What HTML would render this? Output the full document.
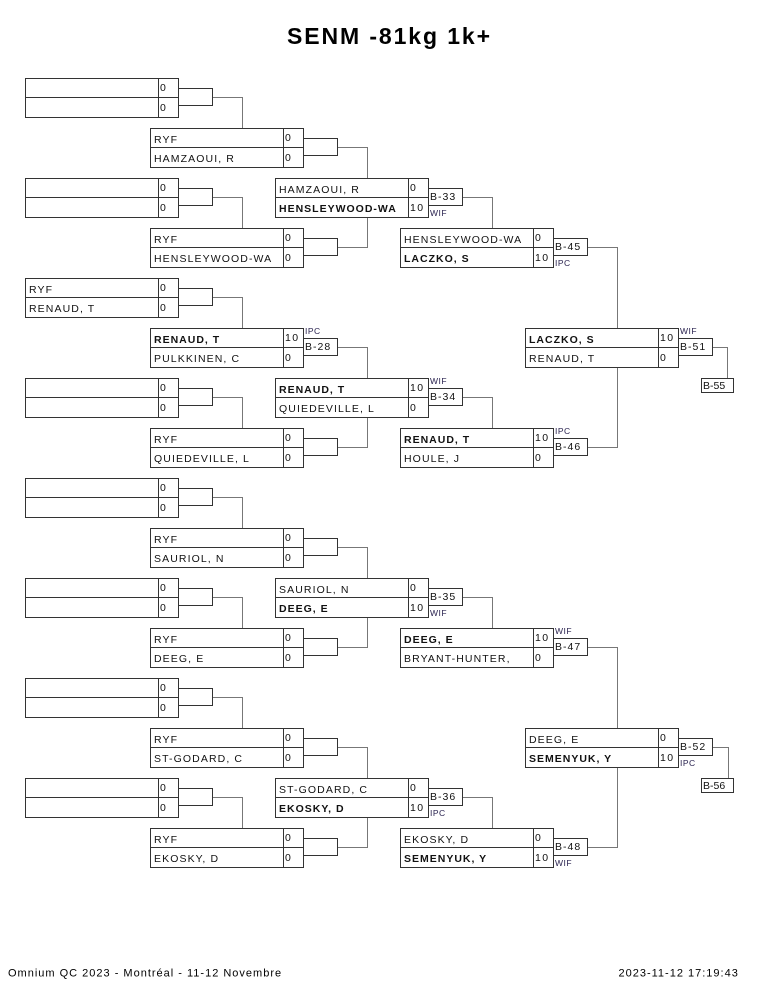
<!DOCTYPE html>
<html>
<head>
<meta charset="utf-8">
<style>
html,body{margin:0;padding:0;background:#fff;}
svg{display:block;}
text{font-family:"Liberation Sans",Arial,sans-serif;fill:#111;}
.n{font-size:10.5px;letter-spacing:1.1px;}
.b{font-size:10.5px;font-weight:bold;letter-spacing:1px;}
.s{font-size:10.5px;letter-spacing:1.4px;}
.bx{font-size:10.5px;letter-spacing:1px;}
.l{font-size:8.5px;letter-spacing:0.5px;fill:#2a2350;}
.box rect,.box line{fill:none;stroke:#333;stroke-width:1;}
.c{fill:none;stroke:#777;stroke-width:1;}
</style>
</head>
<body>
<svg width="765" height="990" viewBox="0 0 765 990" xmlns="http://www.w3.org/2000/svg">
<rect x="0" y="0" width="765" height="990" fill="#fff"/>
<text x="287" y="44" style="font-size:23px;font-weight:bold;letter-spacing:1.9px;fill:#000">SENM -81kg 1k+</text>

<!-- ================= COLUMN 1 (X=25) ================= -->
<g class="box">
<rect x="25.5" y="78.5" width="153" height="39"/><line x1="25" y1="97.5" x2="178" y2="97.5"/><line x1="158.5" y1="78" x2="158.5" y2="117"/><rect x="178.5" y="88.5" width="34" height="17"/>
<rect x="25.5" y="178.5" width="153" height="39"/><line x1="25" y1="197.5" x2="178" y2="197.5"/><line x1="158.5" y1="178" x2="158.5" y2="217"/><rect x="178.5" y="188.5" width="34" height="17"/>
<rect x="25.5" y="278.5" width="153" height="39"/><line x1="25" y1="297.5" x2="178" y2="297.5"/><line x1="158.5" y1="278" x2="158.5" y2="317"/><rect x="178.5" y="288.5" width="34" height="17"/>
<rect x="25.5" y="378.5" width="153" height="39"/><line x1="25" y1="397.5" x2="178" y2="397.5"/><line x1="158.5" y1="378" x2="158.5" y2="417"/><rect x="178.5" y="388.5" width="34" height="17"/>
<rect x="25.5" y="478.5" width="153" height="39"/><line x1="25" y1="497.5" x2="178" y2="497.5"/><line x1="158.5" y1="478" x2="158.5" y2="517"/><rect x="178.5" y="488.5" width="34" height="17"/>
<rect x="25.5" y="578.5" width="153" height="39"/><line x1="25" y1="597.5" x2="178" y2="597.5"/><line x1="158.5" y1="578" x2="158.5" y2="617"/><rect x="178.5" y="588.5" width="34" height="17"/>
<rect x="25.5" y="678.5" width="153" height="39"/><line x1="25" y1="697.5" x2="178" y2="697.5"/><line x1="158.5" y1="678" x2="158.5" y2="717"/><rect x="178.5" y="688.5" width="34" height="17"/>
<rect x="25.5" y="778.5" width="153" height="39"/><line x1="25" y1="797.5" x2="178" y2="797.5"/><line x1="158.5" y1="778" x2="158.5" y2="817"/><rect x="178.5" y="788.5" width="34" height="17"/>
</g>
<path class="c" d="M213 97.5H242.5V128"/>
<path class="c" d="M213 197.5H242.5V228"/>
<path class="c" d="M213 297.5H242.5V328"/>
<path class="c" d="M213 397.5H242.5V428"/>
<path class="c" d="M213 497.5H242.5V528"/>
<path class="c" d="M213 597.5H242.5V628"/>
<path class="c" d="M213 697.5H242.5V728"/>
<path class="c" d="M213 797.5H242.5V828"/>
<text class="s" x="160" y="91">0</text><text class="s" x="160" y="111">0</text>
<text class="s" x="160" y="191">0</text><text class="s" x="160" y="211">0</text>
<text class="n" x="29" y="293">RYF</text><text class="n" x="29" y="312">RENAUD, T</text>
<text class="s" x="160" y="291">0</text><text class="s" x="160" y="311">0</text>
<text class="s" x="160" y="391">0</text><text class="s" x="160" y="411">0</text>
<text class="s" x="160" y="491">0</text><text class="s" x="160" y="511">0</text>
<text class="s" x="160" y="591">0</text><text class="s" x="160" y="611">0</text>
<text class="s" x="160" y="691">0</text><text class="s" x="160" y="711">0</text>
<text class="s" x="160" y="791">0</text><text class="s" x="160" y="811">0</text>

<!-- ================= COLUMN 2 (X=150) ================= -->
<g class="box">
<rect x="150.5" y="128.5" width="153" height="39"/><line x1="150" y1="147.5" x2="303" y2="147.5"/><line x1="283.5" y1="128" x2="283.5" y2="167"/><rect x="303.5" y="138.5" width="34" height="17"/>
<rect x="150.5" y="228.5" width="153" height="39"/><line x1="150" y1="247.5" x2="303" y2="247.5"/><line x1="283.5" y1="228" x2="283.5" y2="267"/><rect x="303.5" y="238.5" width="34" height="17"/>
<rect x="150.5" y="328.5" width="153" height="39"/><line x1="150" y1="347.5" x2="303" y2="347.5"/><line x1="283.5" y1="328" x2="283.5" y2="367"/><rect x="303.5" y="338.5" width="34" height="17"/>
<rect x="150.5" y="428.5" width="153" height="39"/><line x1="150" y1="447.5" x2="303" y2="447.5"/><line x1="283.5" y1="428" x2="283.5" y2="467"/><rect x="303.5" y="438.5" width="34" height="17"/>
<rect x="150.5" y="528.5" width="153" height="39"/><line x1="150" y1="547.5" x2="303" y2="547.5"/><line x1="283.5" y1="528" x2="283.5" y2="567"/><rect x="303.5" y="538.5" width="34" height="17"/>
<rect x="150.5" y="628.5" width="153" height="39"/><line x1="150" y1="647.5" x2="303" y2="647.5"/><line x1="283.5" y1="628" x2="283.5" y2="667"/><rect x="303.5" y="638.5" width="34" height="17"/>
<rect x="150.5" y="728.5" width="153" height="39"/><line x1="150" y1="747.5" x2="303" y2="747.5"/><line x1="283.5" y1="728" x2="283.5" y2="767"/><rect x="303.5" y="738.5" width="34" height="17"/>
<rect x="150.5" y="828.5" width="153" height="39"/><line x1="150" y1="847.5" x2="303" y2="847.5"/><line x1="283.5" y1="828" x2="283.5" y2="867"/><rect x="303.5" y="838.5" width="34" height="17"/>
</g>
<path class="c" d="M338 147.5H367.5V178"/>
<path class="c" d="M338 247.5H367.5V217"/>
<path class="c" d="M338 347.5H367.5V378"/>
<path class="c" d="M338 447.5H367.5V417"/>
<path class="c" d="M338 547.5H367.5V578"/>
<path class="c" d="M338 647.5H367.5V617"/>
<path class="c" d="M338 747.5H367.5V778"/>
<path class="c" d="M338 847.5H367.5V817"/>

<text class="n" x="154" y="143">RYF</text><text class="n" x="154" y="162">HAMZAOUI, R</text>
<text class="s" x="285" y="141">0</text><text class="s" x="285" y="161">0</text>
<text class="n" x="154" y="243">RYF</text><text class="n" x="154" y="262">HENSLEYWOOD-WA</text>
<text class="s" x="285" y="241">0</text><text class="s" x="285" y="261">0</text>
<text class="b" x="154" y="343">RENAUD, T</text><text class="n" x="154" y="362">PULKKINEN, C</text>
<text class="s" x="285" y="341">10</text><text class="s" x="285" y="361">0</text>
<text class="bx" x="305" y="350">B-28</text><text class="l" x="305" y="334">IPC</text>
<text class="n" x="154" y="443">RYF</text><text class="n" x="154" y="462">QUIEDEVILLE, L</text>
<text class="s" x="285" y="441">0</text><text class="s" x="285" y="461">0</text>
<text class="n" x="154" y="543">RYF</text><text class="n" x="154" y="562">SAURIOL, N</text>
<text class="s" x="285" y="541">0</text><text class="s" x="285" y="561">0</text>
<text class="n" x="154" y="643">RYF</text><text class="n" x="154" y="662">DEEG, E</text>
<text class="s" x="285" y="641">0</text><text class="s" x="285" y="661">0</text>
<text class="n" x="154" y="743">RYF</text><text class="n" x="154" y="762">ST-GODARD, C</text>
<text class="s" x="285" y="741">0</text><text class="s" x="285" y="761">0</text>
<text class="n" x="154" y="843">RYF</text><text class="n" x="154" y="862">EKOSKY, D</text>
<text class="s" x="285" y="841">0</text><text class="s" x="285" y="861">0</text>

<!-- ================= COLUMN 3 (X=275) ================= -->
<g class="box">
<rect x="275.5" y="178.5" width="153" height="39"/><line x1="275" y1="197.5" x2="428" y2="197.5"/><line x1="408.5" y1="178" x2="408.5" y2="217"/><rect x="428.5" y="188.5" width="34" height="17"/>
<rect x="275.5" y="378.5" width="153" height="39"/><line x1="275" y1="397.5" x2="428" y2="397.5"/><line x1="408.5" y1="378" x2="408.5" y2="417"/><rect x="428.5" y="388.5" width="34" height="17"/>
<rect x="275.5" y="578.5" width="153" height="39"/><line x1="275" y1="597.5" x2="428" y2="597.5"/><line x1="408.5" y1="578" x2="408.5" y2="617"/><rect x="428.5" y="588.5" width="34" height="17"/>
<rect x="275.5" y="778.5" width="153" height="39"/><line x1="275" y1="797.5" x2="428" y2="797.5"/><line x1="408.5" y1="778" x2="408.5" y2="817"/><rect x="428.5" y="788.5" width="34" height="17"/>
</g>
<path class="c" d="M463 197.5H492.5V228"/>
<path class="c" d="M463 397.5H492.5V428"/>
<path class="c" d="M463 597.5H492.5V628"/>
<path class="c" d="M463 797.5H492.5V828"/>

<text class="n" x="279" y="193">HAMZAOUI, R</text><text class="b" x="279" y="212">HENSLEYWOOD-WA</text>
<text class="s" x="410" y="191">0</text><text class="s" x="410" y="211">10</text>
<text class="bx" x="430" y="200">B-33</text><text class="l" x="430" y="216">WIF</text>

<text class="b" x="279" y="393">RENAUD, T</text><text class="n" x="279" y="412">QUIEDEVILLE, L</text>
<text class="s" x="410" y="391">10</text><text class="s" x="410" y="411">0</text>
<text class="bx" x="430" y="400">B-34</text><text class="l" x="430" y="384">WIF</text>

<text class="n" x="279" y="593">SAURIOL, N</text><text class="b" x="279" y="612">DEEG, E</text>
<text class="s" x="410" y="591">0</text><text class="s" x="410" y="611">10</text>
<text class="bx" x="430" y="600">B-35</text><text class="l" x="430" y="616">WIF</text>

<text class="n" x="279" y="793">ST-GODARD, C</text><text class="b" x="279" y="812">EKOSKY, D</text>
<text class="s" x="410" y="791">0</text><text class="s" x="410" y="811">10</text>
<text class="bx" x="430" y="800">B-36</text><text class="l" x="430" y="816">IPC</text>

<!-- ================= COLUMN 4 (X=400) ================= -->
<g class="box">
<rect x="400.5" y="228.5" width="153" height="39"/><line x1="400" y1="247.5" x2="553" y2="247.5"/><line x1="533.5" y1="228" x2="533.5" y2="267"/><rect x="553.5" y="238.5" width="34" height="17"/>
<rect x="400.5" y="428.5" width="153" height="39"/><line x1="400" y1="447.5" x2="553" y2="447.5"/><line x1="533.5" y1="428" x2="533.5" y2="467"/><rect x="553.5" y="438.5" width="34" height="17"/>
<rect x="400.5" y="628.5" width="153" height="39"/><line x1="400" y1="647.5" x2="553" y2="647.5"/><line x1="533.5" y1="628" x2="533.5" y2="667"/><rect x="553.5" y="638.5" width="34" height="17"/>
<rect x="400.5" y="828.5" width="153" height="39"/><line x1="400" y1="847.5" x2="553" y2="847.5"/><line x1="533.5" y1="828" x2="533.5" y2="867"/><rect x="553.5" y="838.5" width="34" height="17"/>
</g>
<path class="c" d="M588 247.5H617.5V328"/>
<path class="c" d="M588 447.5H617.5V367"/>
<path class="c" d="M588 647.5H617.5V728"/>
<path class="c" d="M588 847.5H617.5V767"/>

<text class="n" x="404" y="243">HENSLEYWOOD-WA</text><text class="b" x="404" y="262">LACZKO, S</text>
<text class="s" x="535" y="241">0</text><text class="s" x="535" y="261">10</text>
<text class="bx" x="555" y="250">B-45</text><text class="l" x="555" y="266">IPC</text>

<text class="b" x="404" y="443">RENAUD, T</text><text class="n" x="404" y="462">HOULE, J</text>
<text class="s" x="535" y="441">10</text><text class="s" x="535" y="461">0</text>
<text class="bx" x="555" y="450">B-46</text><text class="l" x="555" y="434">IPC</text>

<text class="b" x="404" y="643">DEEG, E</text><text class="n" x="404" y="662">BRYANT-HUNTER,</text>
<text class="s" x="535" y="641">10</text><text class="s" x="535" y="661">0</text>
<text class="bx" x="555" y="650">B-47</text><text class="l" x="555" y="634">WIF</text>

<text class="n" x="404" y="843">EKOSKY, D</text><text class="b" x="404" y="862">SEMENYUK, Y</text>
<text class="s" x="535" y="841">0</text><text class="s" x="535" y="861">10</text>
<text class="bx" x="555" y="850">B-48</text><text class="l" x="555" y="866">WIF</text>

<!-- ================= COLUMN 5 (X=525) ================= -->
<g class="box">
<rect x="525.5" y="328.5" width="153" height="39"/><line x1="525" y1="347.5" x2="678" y2="347.5"/><line x1="658.5" y1="328" x2="658.5" y2="367"/><rect x="678.5" y="338.5" width="34" height="17"/>
<rect x="525.5" y="728.5" width="153" height="39"/><line x1="525" y1="747.5" x2="678" y2="747.5"/><line x1="658.5" y1="728" x2="658.5" y2="767"/><rect x="678.5" y="738.5" width="34" height="17"/>
<rect x="701.5" y="378.5" width="32" height="14"/>
<rect x="701.5" y="778.5" width="32" height="14"/>
</g>
<path class="c" d="M713 347.5H727.5V378"/>
<path class="c" d="M713 747.5H728.5V778"/>

<text class="b" x="529" y="343">LACZKO, S</text><text class="n" x="529" y="362">RENAUD, T</text>
<text class="s" x="660" y="341">10</text><text class="s" x="660" y="361">0</text>
<text class="bx" x="680" y="350">B-51</text><text class="l" x="680" y="334">WIF</text>
<text class="bx" x="703" y="389" style="letter-spacing:0">B-55</text>

<text class="n" x="529" y="743">DEEG, E</text><text class="b" x="529" y="762">SEMENYUK, Y</text>
<text class="s" x="660" y="741">0</text><text class="s" x="660" y="761">10</text>
<text class="bx" x="680" y="750">B-52</text><text class="l" x="680" y="766">IPC</text>
<text class="bx" x="703" y="789" style="letter-spacing:0">B-56</text>

<!-- footer -->
<text x="8" y="976.5" style="font-size:11px;letter-spacing:1px;fill:#000">Omnium QC 2023 - Montréal - 11-12 Novembre</text>
<text x="618.5" y="976.5" style="font-size:11px;letter-spacing:1px;fill:#000">2023-11-12 17:19:43</text>
</svg>
</body>
</html>
